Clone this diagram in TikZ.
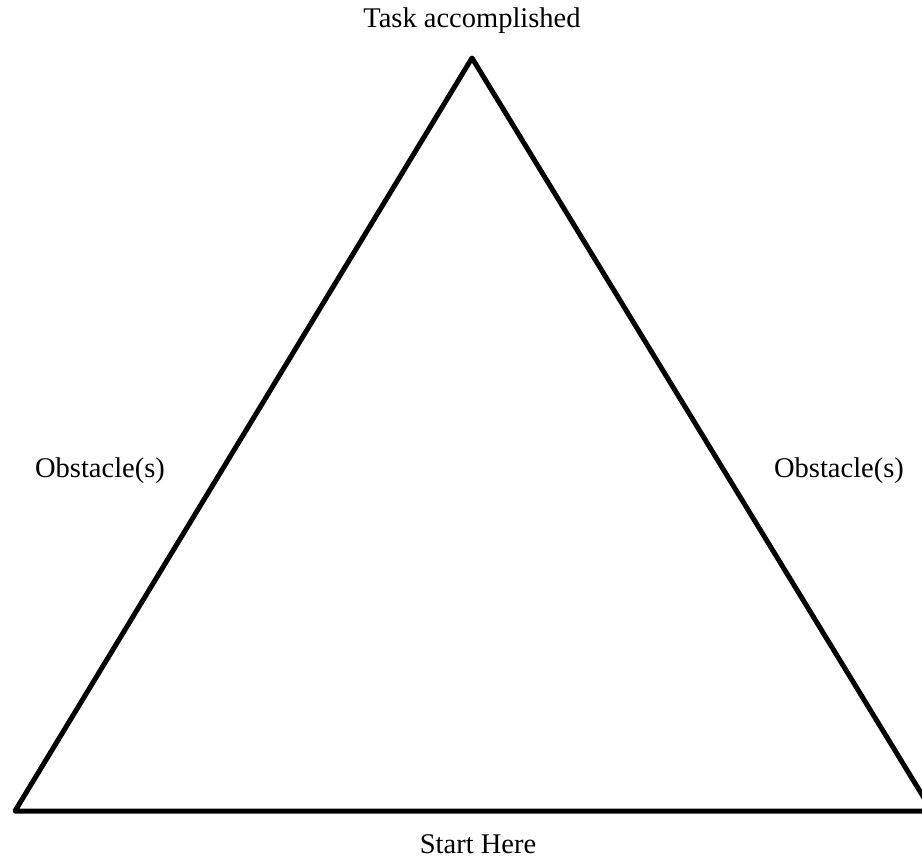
\documentclass[tikz,border=0pt]{standalone}
\usepackage{fontspec}
\setmainfont{Liberation Serif}
\usepackage{tikz}
\usetikzlibrary{calc}

\begin{document}
\begin{tikzpicture}[x=1pt,y=-1pt,line join=round,semithick,every node/.style={font=\fontsize{28.5}{34}\selectfont,inner sep=0pt,anchor=base}]
  \tikzstyle{side}=[draw=black,line width=5pt]
  \useasboundingbox (0,0) rectangle (922,860);

  \coordinate (top)   at (472,58);
  \coordinate (left)  at (15,811);
  \coordinate (right) at (932,811);

  \node (task)  at (472,27)  {Task accomplished};
  \node (obsl)  at (100,477) {Obstacle(s)};
  \node (obsr)  at (839,477) {Obstacle(s)};
  \node (start) at (478,853) {Start Here};

  \begin{scope}
    \clip (0,0) rectangle (922,860);
    \path[side] (top) -- (right) -- (left) -- cycle;
  \end{scope}
\end{tikzpicture}
\end{document}
